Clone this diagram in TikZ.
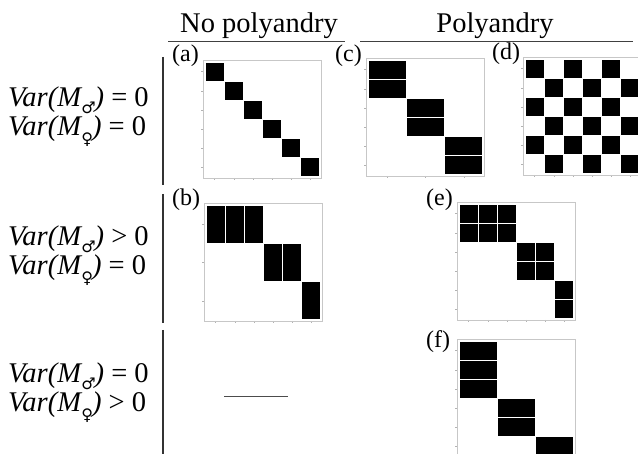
\documentclass[tikz,border=0pt]{standalone}
\usepackage{fontspec}
\setmainfont{Liberation Serif}
\newfontfamily\symfont{DejaVu Sans}
\newcommand\msym{\kern-1pt\raisebox{-0.22em}{\symfont\fontsize{16}{16}\selectfont ♂}\kern-1pt}
\newcommand\fsym{\kern-1pt\raisebox{-0.30em}{\symfont\fontsize{16}{16}\selectfont ♀}\kern-1pt}
\tikzset{
 frame/.style={draw=black!22, line width=0.8pt},
 tickmark/.style={draw=black!30, line width=0.4pt},
 cell/.style={fill=black},
 sepline/.style={draw=black!80, line width=1.3pt},
 hdrline/.style={draw=black!75, line width=1.1pt},
 hdr/.style={font=\fontsize{28.5}{30}\selectfont, inner sep=0pt, anchor=base},
 rowlab/.style={font=\fontsize{28.5}{30}\selectfont, inner sep=0pt, anchor=base west},
 plab/.style={font=\fontsize{24}{26}\selectfont, inner sep=0pt, anchor=base west},
}
\newcommand\drawpanel[5]{% x0, y0, ncols, nrows, cells
  \begin{scope}[shift={(#1,#2)}]
    \pgfmathsetmacro\pcw{115/#3}
    \pgfmathsetmacro\pch{115/#4}
    \foreach \ii in {1,...,#3} \draw[tickmark] ({2+(\ii-0.5)*\pcw},118) -- ++(0,2.5);
    \foreach \jj in {1,...,#4} \draw[tickmark] (0,{2+(\jj-0.5)*\pch}) -- ++(-2.5,0);
    \foreach \cc/\rr in {#5}
      \fill[cell] ({2+\cc*\pcw+0.6},{2+\rr*\pch+0.6}) rectangle ({2+(\cc+1)*\pcw-0.6},{2+(\rr+1)*\pch-0.6});
    \draw[frame] (0,0) rectangle (118,118);
  \end{scope}}
\begin{document}
\begin{tikzpicture}[x=1pt,y=-1pt]
\useasboundingbox (0,0) rectangle (638,454);
\clip (0,0) rectangle (638,454);
% headers
\node[hdr] (hnp) at (259,33) {No polyandry};
\node[hdr] (hp) at (495,33) {Polyandry};
\coordinate (np1) at (168,41.5); \coordinate (np2) at (345,41.5);
\coordinate (p1) at (360,41.5); \coordinate (p2) at (633,41.5);
\draw[hdrline] (np1) -- (np2);
\draw[hdrline] (p1) -- (p2);
% row labels
\node[rowlab] (r1a) at (8,107) {\textit{Var(M}\msym\textit{)} = 0};
\node[rowlab] (r1b) at (8,136) {\textit{Var(M}\fsym\textit{)} = 0};
\node[rowlab] (r2a) at (8,246) {\textit{Var(M}\msym\textit{)} > 0};
\node[rowlab] (r2b) at (8,275) {\textit{Var(M}\fsym\textit{)} = 0};
\node[rowlab] (r3a) at (8,383) {\textit{Var(M}\msym\textit{)} = 0};
\node[rowlab] (r3b) at (8,412) {\textit{Var(M}\fsym\textit{)} > 0};
% separators
\coordinate (s1a) at (163,57); \coordinate (s1b) at (163,185);
\coordinate (s2a) at (163,194); \coordinate (s2b) at (163,323);
\coordinate (s3a) at (163,330); \coordinate (s3b) at (163,460);
\draw[sepline] (s1a) -- (s1b);
\draw[sepline] (s2a) -- (s2b);
\draw[sepline] (s3a) -- (s3b);
% dash for missing panel
\coordinate (d1) at (224,396); \coordinate (d2) at (288,396);
\draw[black!70, line width=0.8pt] (d1) -- (d2);
% panel labels
\node[plab] (la) at (172,62) {(a)};
\node[plab] (lb) at (172,206) {(b)};
\node[plab] (lc) at (335,62) {(c)};
\node[plab] (ld) at (492,60) {(d)};
\node[plab] (le) at (426,206) {(e)};
\node[plab] (lf) at (426,348) {(f)};
% panels
\drawpanel{203}{60}{6}{6}{0/0,1/1,2/2,3/3,4/4,5/5}
\drawpanel{204}{203}{6}{3}{0/0,1/0,2/0,3/1,4/1,5/2}
\drawpanel{366}{58}{3}{6}{0/0,0/1,1/2,1/3,2/4,2/5}
\drawpanel{523}{57}{6}{6}{0/0,2/0,4/0,1/1,3/1,5/1,0/2,2/2,4/2,1/3,3/3,5/3,0/4,2/4,4/4,1/5,3/5,5/5}
\drawpanel{457}{202}{6}{6}{0/0,1/0,2/0,0/1,1/1,2/1,3/2,4/2,3/3,4/3,5/4,5/5}
\drawpanel{457}{339}{3}{6}{0/0,0/1,0/2,1/3,1/4,2/5}
\end{tikzpicture}
\end{document}
